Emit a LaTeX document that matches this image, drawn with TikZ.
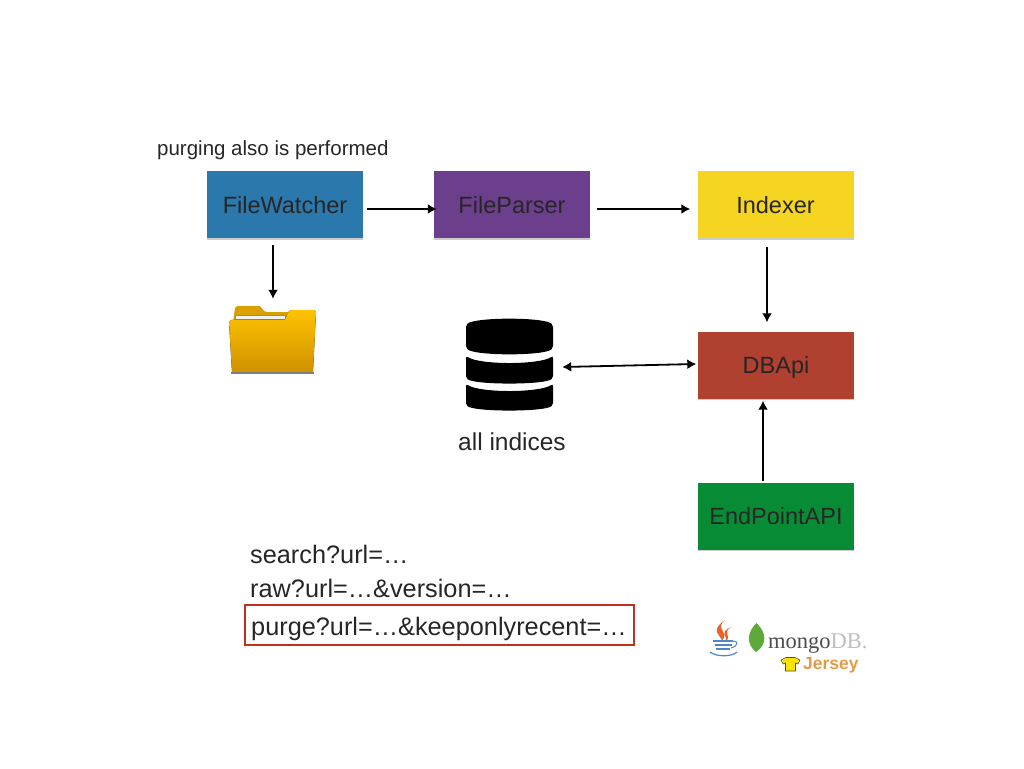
\documentclass[tikz,border=0pt]{standalone}
\usepackage{fontspec}
\setmainfont{Liberation Sans}
\newfontfamily\logofont{Liberation Serif}
\usetikzlibrary{arrows.meta,shadows}
\definecolor{fwblue}{HTML}{2A78AC}
\definecolor{fppurple}{HTML}{6B3F8C}
\definecolor{ixyellow}{HTML}{F6D422}
\definecolor{dbred}{HTML}{B04030}
\definecolor{epgreen}{HTML}{078C35}
\definecolor{purgered}{HTML}{C0301C}
\definecolor{folderback}{HTML}{D9A000}
\definecolor{foldertop}{HTML}{FFC200}
\definecolor{folderbot}{HTML}{CE9200}
\definecolor{javared}{HTML}{E8622A}
\definecolor{javablue}{HTML}{4F86C6}
\definecolor{leafgreen}{HTML}{5DA93A}
\definecolor{jerseyorange}{HTML}{E59A45}
\tikzset{
	block/.style={minimum width=156pt,minimum height=67pt,inner sep=0pt,
		text height=17pt,text depth=0pt,text=black!85,
		font=\fontsize{23.5}{28}\selectfont,
		drop shadow={shadow xshift=0pt,shadow yshift=-1.5pt,opacity=0.4}},
	urltext/.style={anchor=base west,inner sep=0pt,text=black!85,font=\fontsize{25.3}{30}\selectfont},
	flow/.style={->,line width=1.8pt},
	dbslab/.style={fill=black,draw=none,rounded corners=2pt}
}

\begin{document}
\begin{tikzpicture}[x=1pt,y=-1pt,>={Latex[length=9pt,width=10pt]}]
		\useasboundingbox (0,0) rectangle (1024,768);
		% top row
		\node[block,fill=fwblue] (filewatcher) at (285,204.5) {FileWatcher};
		\node[block,fill=fppurple] (fileparser) at (512,204.5) {FileParser};
		\node[block,fill=ixyellow] (indexer) at (775.5,204.5) {Indexer};
		\node[block,fill=dbred] (dbapi) at (776,365) {DBApi};
		\node[block,fill=epgreen] (endpoint) at (776,516) {EndPointAPI};
		\node[anchor=base west,inner sep=0pt,text=black!85,font=\fontsize{20.5}{24}\selectfont] (purging) at (157,155) {purging also is performed};
		% folder
		\fill[folderback] (233,322) -- (235,308) -- (237,306) -- (260,306) -- (264,311) -- (267,312) -- (290,312) -- (290,322) -- cycle;
		\fill[black!5,draw=black!45,line width=.7pt] (235,315) rectangle (285,319);
		\fill[top color=foldertop,bottom color=folderbot] (229,322) -- (231,320) -- (285,319.5) -- (289,311) -- (291,310) -- (314,310) -- (316,312) -- (313,372) -- (232,372) -- cycle;
		\fill[black!50] (231,372) rectangle (314,373.5);
		\node[minimum width=87pt,minimum height=68pt,inner sep=0pt] (folder) at (273,340) {};
		% database
		\fill[dbslab] (466,325) .. controls (475,317) and (544,317) .. (553,325) -- (553,348) .. controls (544,356) and (475,356) .. (466,348) -- cycle;
		\fill[dbslab] (466,356) .. controls (480,365) and (539,365) .. (553,356) -- (553,378) .. controls (544,385) and (475,385) .. (466,378) -- cycle;
		\fill[dbslab] (466,384) .. controls (480,393) and (539,393) .. (553,384) -- (553,405) .. controls (544,412) and (475,412) .. (466,405) -- cycle;
		\node[minimum width=88pt,minimum height=92pt,inner sep=0pt] (indices) at (509.5,365) {};
		\node[inner sep=0pt,anchor=base,text=black!85,font=\fontsize{24.5}{29}\selectfont] (indiceslabel) at (512,450) {all indices};
		% connectors
		\draw[flow] ([yshift=-4.5pt,xshift=4pt]filewatcher.east) -- ([yshift=-4.5pt,xshift=3pt]fileparser.west);
		\draw[flow] ([yshift=-4.5pt,xshift=7pt]fileparser.east) -- ([yshift=-4.5pt,xshift=-7pt]indexer.west);
		\draw[flow] ([xshift=-12pt,yshift=-7pt]filewatcher.south) -- ([yshift=7pt]folder.north);
		\draw[flow] ([xshift=-8.5pt,yshift=-9pt]indexer.south) -- ([xshift=-9pt,yshift=9pt]dbapi.north);
		\draw[flow] ([xshift=-13pt,yshift=1pt]endpoint.north) -- ([xshift=-13pt,yshift=-2pt]dbapi.south);
		\draw[flow,<->] ([xshift=8.5pt,yshift=-2pt]indices.east) -- ([xshift=-1.5pt,yshift=1pt]dbapi.west);
		% urls
		\node[urltext] (searchurl) at (250,563) {search?url=…};
		\node[urltext] (rawurl) at (250,597) {raw?url=…\&version=…};
		\node[draw=purgered,line width=1.3pt,minimum width=389pt,minimum height=40pt,inner sep=0pt] (purgebox) at (439.5,625) {};
		\node[urltext] (purgeurl) at (251,635) {purge?url=…\&keeponlyrecent=…};
		% java
		\fill[javared] (725,620) .. controls (714,629) and (730,631) .. (722,641) .. controls (721,635) and (709,631) .. (725,620) -- cycle;
		\fill[javared] (731,627) .. controls (722,632) and (732,636) .. (726,641) .. controls (728,636) and (718,633) .. (731,627) -- cycle;
		\draw[javablue,line width=1.4pt] (713,641) -- (733,641) (715,645) -- (732,645) (716,649) -- (730,649);
		\draw[javablue,line width=1pt] (733,641) .. controls (739,641) and (738,646) .. (731,648);
		\draw[javablue,line width=1.2pt] (710,652) .. controls (716,657) and (732,657) .. (737,652);
		% mongodb
		\fill[leafgreen] (756.5,623) .. controls (747,632) and (746,644) .. (756,652) .. controls (768,644) and (766,632) .. (756.5,623) -- cycle;
		\node[anchor=base west,inner sep=0pt,font=\logofont\fontsize{22.5}{26}\selectfont] (mongo) at (768,648) {\textcolor{black!70}{mongo}\textcolor{black!25}{DB.}};
		% jersey
		\fill[yellow!85!orange,draw=black!70,line width=.6pt] (781,660) -- (786,657.5) -- (795,657.5) -- (800,660) -- (798,664) -- (795.5,663) -- (795.5,671) -- (785.5,671) -- (785.5,663) -- (783,664) -- cycle;
		\node[anchor=base west,inner sep=0pt,text=jerseyorange,font=\fontsize{17.5}{20}\selectfont\bfseries] (jersey) at (803,669) {Jersey};
	\end{tikzpicture}
\end{document}
